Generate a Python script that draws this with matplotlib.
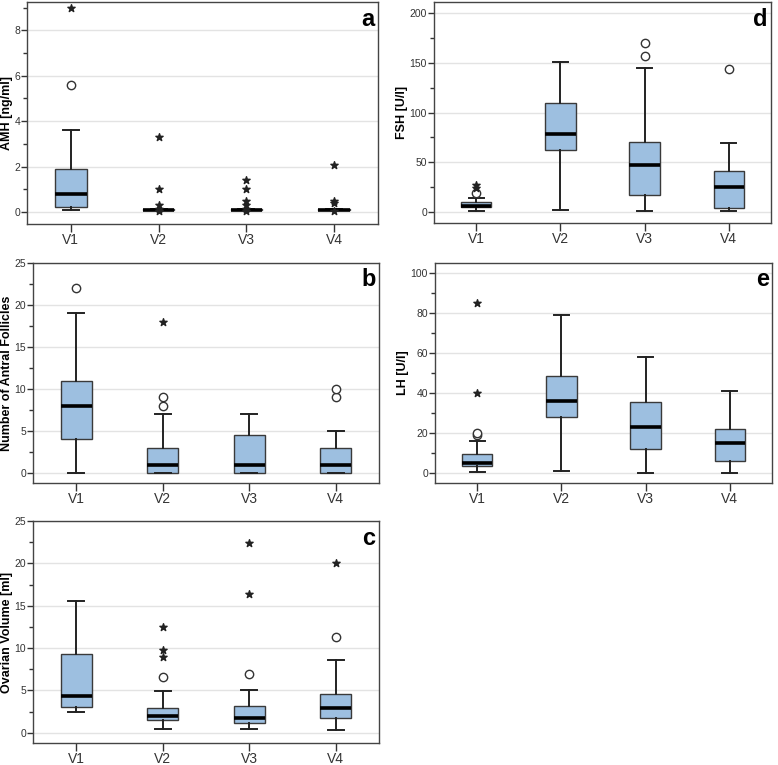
import matplotlib
matplotlib.use("Agg")
import matplotlib.pyplot as plt
from matplotlib.ticker import MultipleLocator

plt.rcParams['font.family'] = ['Liberation Sans', 'DejaVu Sans']

# Data
visits = ["V1", "V2", "V3", "V4"]

# (whislo, q1, med, q3, whishi) per visit
amh_box = [(0.1, 0.2, 0.8, 1.9, 3.6), (0.1, 0.1, 0.1, 0.12, 0.12),
           (0.1, 0.1, 0.1, 0.12, 0.12), (0.1, 0.1, 0.1, 0.12, 0.12)]
amh_circles = [[5.6], [], [], []]
amh_stars = [[9.0], [3.3, 1.0, 0.3, 0.15, 0.05], [1.4, 1.0, 0.48, 0.3, 0.15, 0.05], [2.07, 0.5, 0.4, 0.05]]

afc_box = [(0, 4, 8, 11, 19), (0, 0, 1, 3, 7), (0, 0, 1, 4.5, 7), (0, 0, 1, 3, 5)]
afc_circles = [[22], [8, 9], [], [9, 10]]
afc_stars = [[], [18], [], []]

ovol_box = [(2.5, 3.0, 4.4, 9.3, 15.5), (0.5, 1.5, 2.0, 2.9, 4.9),
            (0.5, 1.2, 1.8, 3.2, 5.1), (0.3, 1.7, 2.9, 4.6, 8.6)]
ovol_circles = [[], [6.6], [7.0], [11.3]]
ovol_stars = [[], [9.0, 9.8, 12.5], [16.4, 22.4], [20.1]]

fsh_box = [(1, 5, 6, 10, 14), (2, 62, 78, 110, 151), (1, 17, 47, 70, 145), (1, 4, 25, 41, 69)]
fsh_circles = [[19], [], [157, 170], [144]]
fsh_stars = [[24, 27], [], [], []]

lh_box = [(0.5, 3.5, 5, 9.5, 16), (1, 28, 36, 48.5, 79), (0, 12, 23, 35.5, 58), (0, 6, 15, 22, 41)]
lh_circles = [[19, 20], [], [], []]
lh_stars = [[40, 85], [], [], []]

W, H = 778, 765
fig = plt.figure(figsize=(W / 100, H / 100), dpi=100)

def px_axes(left, top, right, bottom):
    return fig.add_axes([left / W, 1 - bottom / H, (right - left) / W, (bottom - top) / H])

box_face = "#9dbfe0"
edge = "#3a3a3a"

def panel(ax, boxes, circles, stars, ylabel, letter, ylim, major, minor):
    stats = []
    for b in boxes:
        stats.append(dict(whislo=b[0], q1=b[1], med=b[2], q3=b[3], whishi=b[4], fliers=[]))
    pos = list(range(1, len(visits) + 1))
    ax.bxp(stats, positions=pos, widths=0.36, patch_artist=True, showfliers=False,
           boxprops=dict(facecolor=box_face, edgecolor=edge, linewidth=1.0),
           medianprops=dict(color="black", linewidth=2.6),
           whiskerprops=dict(color="#222222", linewidth=1.4),
           capprops=dict(color="#222222", linewidth=1.4),
           capwidths=0.18, zorder=3)
    for p, c in zip(pos, circles):
        if c:
            ax.scatter([p] * len(c), c, s=36, facecolors="white", edgecolors="#333333",
                       linewidths=1.0, zorder=4)
    for p, s in zip(pos, stars):
        if s:
            ax.scatter([p] * len(s), s, s=30, marker="*", color="#222222", zorder=4)
    ax.set_xlim(0.5, 4.5)
    ax.set_ylim(*ylim)
    ax.set_xticks(pos)
    ax.set_xticklabels(visits)
    ax.yaxis.set_major_locator(MultipleLocator(major))
    ax.yaxis.set_minor_locator(MultipleLocator(minor))
    ax.grid(axis="y", which="major", color="#e3e3e3", linewidth=1.0, zorder=0)
    ax.set_axisbelow(True)
    ax.tick_params(axis="y", which="major", direction="out", length=4, width=1,
                   color="#333333", labelsize=7.5, labelcolor="#333333", pad=1)
    ax.tick_params(axis="x", which="major", direction="out", length=5.5, width=1,
                   color="#333333", labelsize=10, labelcolor="#333333", pad=1)
    ax.tick_params(axis="y", which="minor", direction="out", length=3, width=1, color="#333333")
    ax.tick_params(axis="x", which="minor", bottom=False)
    for sp in ax.spines.values():
        sp.set_color("#444444")
        sp.set_linewidth(1.0)
    ax.set_ylabel(ylabel, fontsize=9, fontweight="bold", labelpad=1)
    ax.text(0.99, 0.975, letter, transform=ax.transAxes, ha="right", va="top",
            fontsize=17, fontweight="bold")

ax_a = px_axes(27, 2, 378, 224)
panel(ax_a, amh_box, amh_circles, amh_stars, "AMH [ng/ml]", "a", (-0.53, 9.25), 2, 1)

ax_b = px_axes(33, 263, 379, 483)
panel(ax_b, afc_box, afc_circles, afc_stars, "Number of Antral Follicles", "b", (-1.2, 25), 5, 2.5)

ax_c = px_axes(33, 521, 379, 743)
panel(ax_c, ovol_box, ovol_circles, ovol_stars, "Ovarian Volume [ml]", "c", (-1.2, 25), 5, 2.5)

ax_d = px_axes(434, 2, 771, 223)
panel(ax_d, fsh_box, fsh_circles, fsh_stars, "FSH [U/l]", "d", (-11, 211), 50, 25)

ax_e = px_axes(435, 263, 772, 483)
panel(ax_e, lh_box, lh_circles, lh_stars, "LH [U/l]", "e", (-5, 105), 20, 10)

fig.savefig("out.png", dpi=100)
